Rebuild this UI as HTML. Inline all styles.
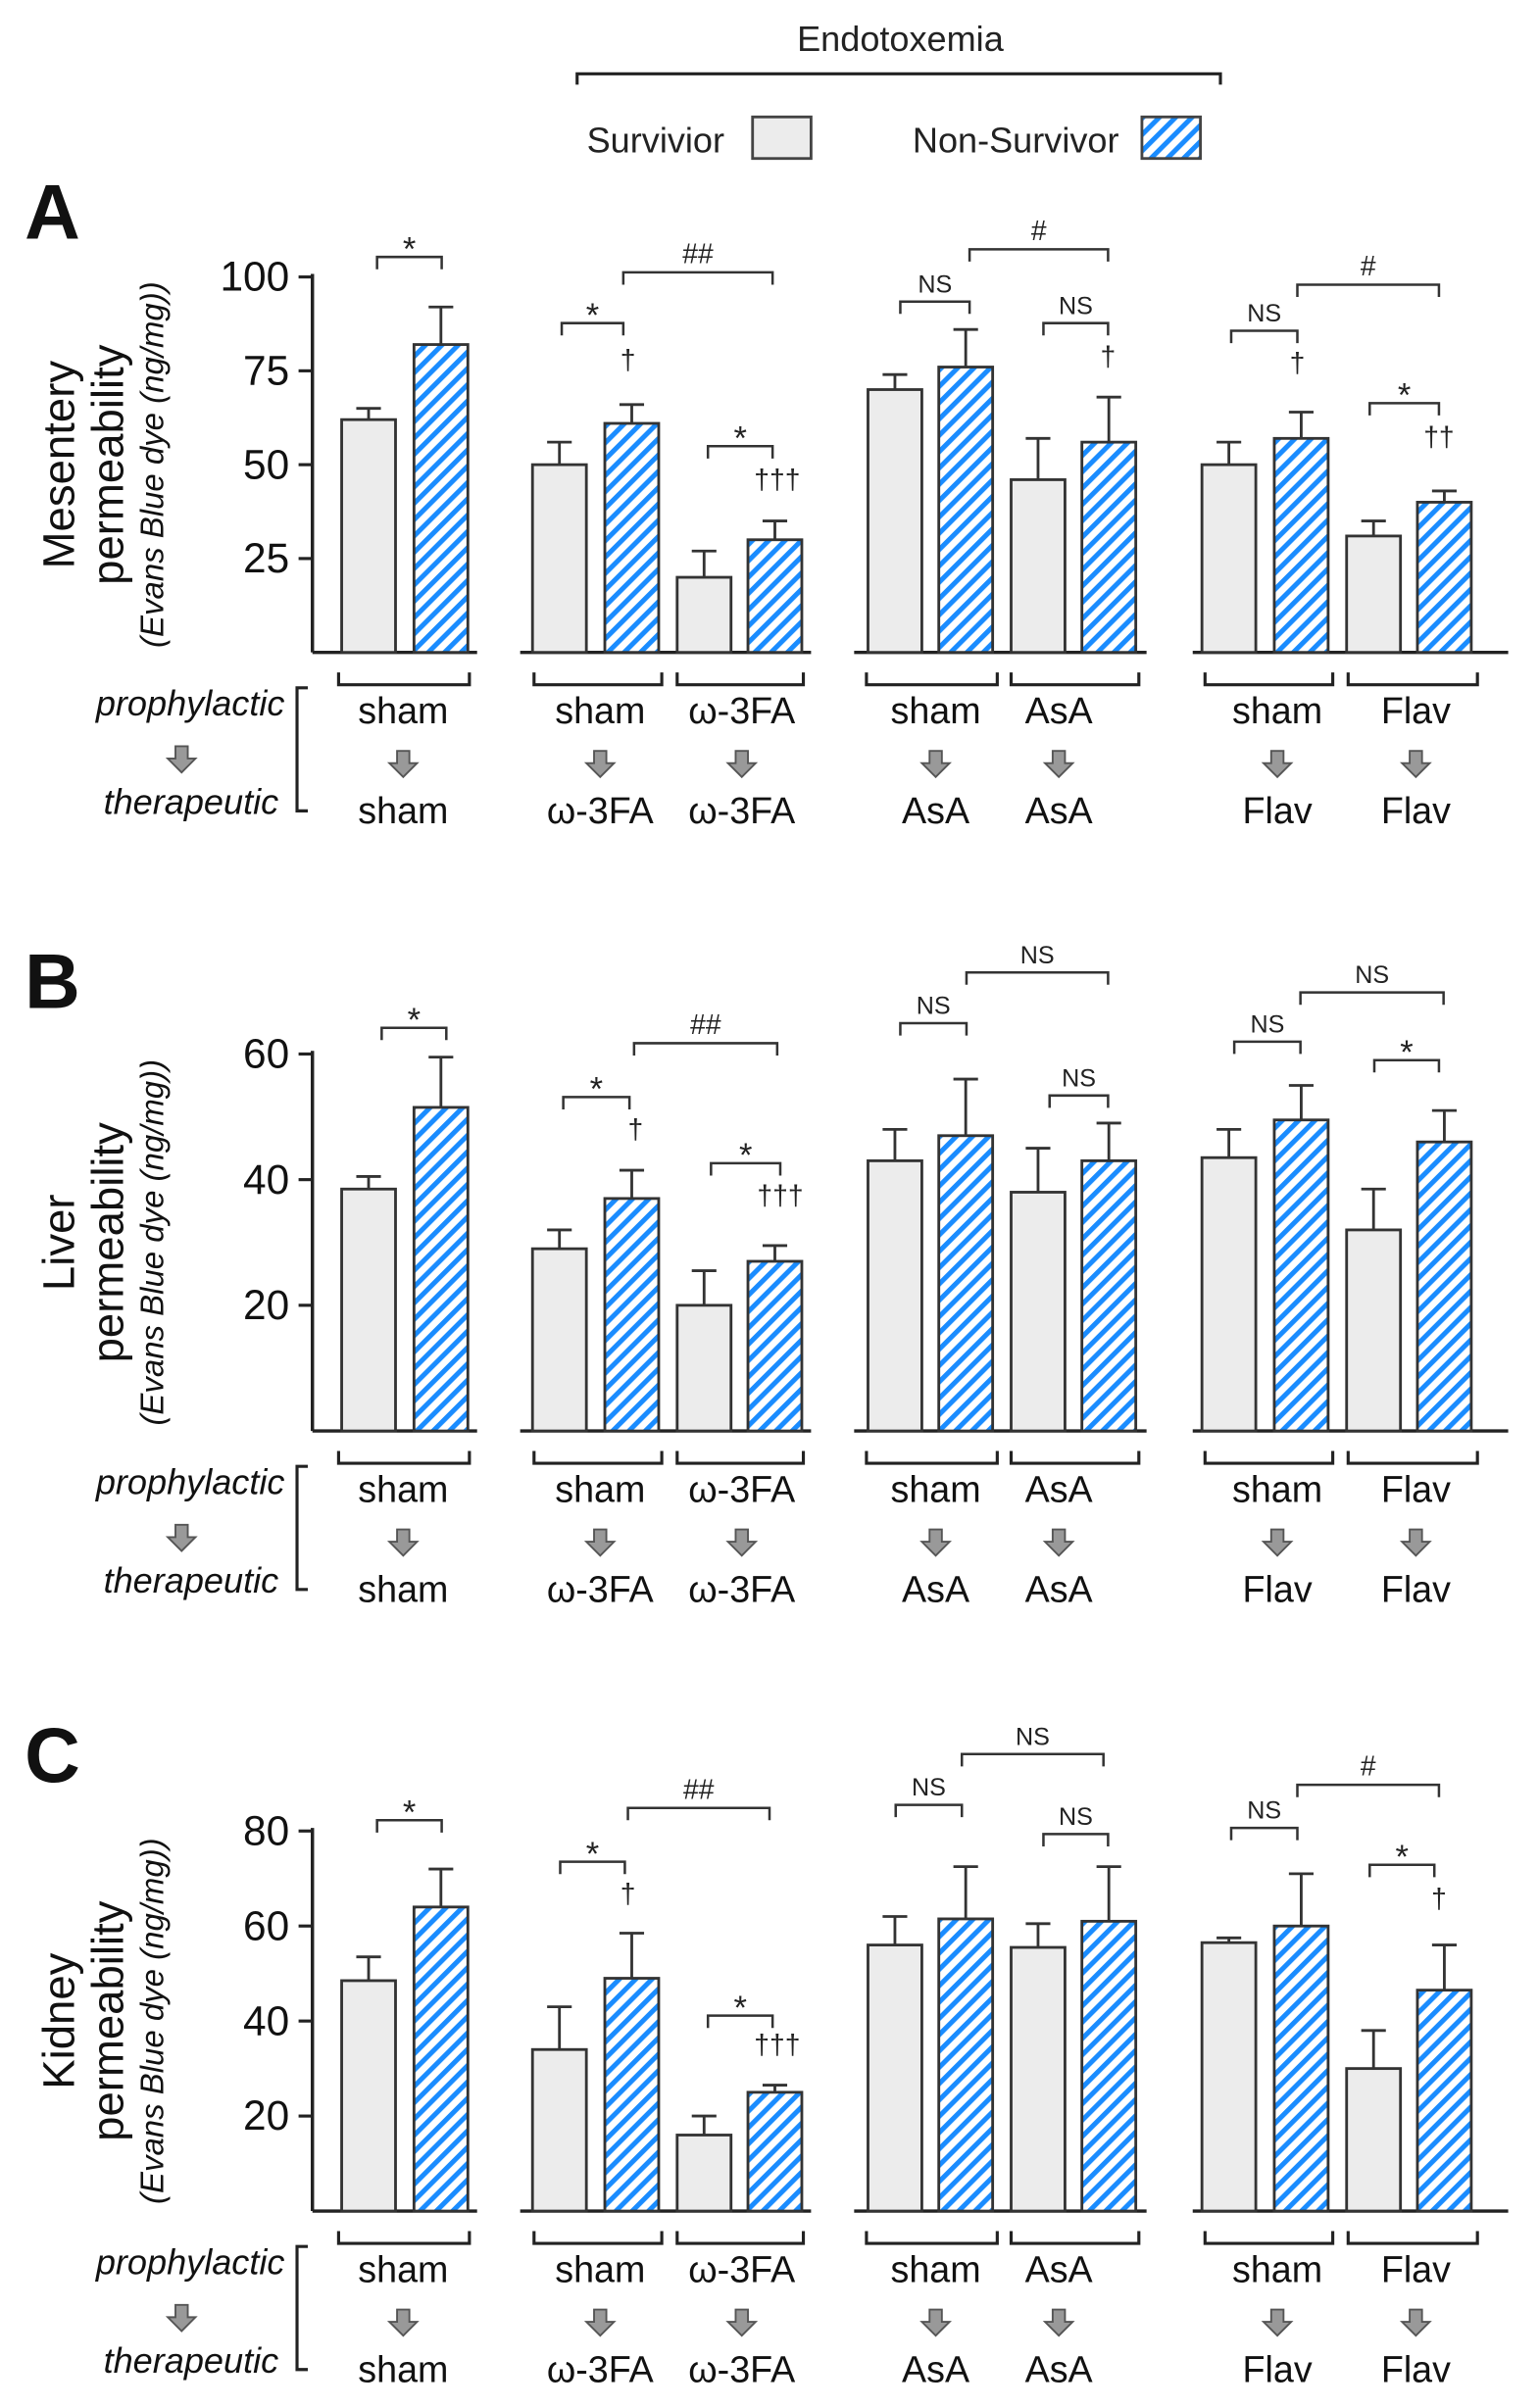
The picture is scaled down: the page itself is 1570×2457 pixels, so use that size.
<!DOCTYPE html>
<html><head><meta charset="utf-8"><style>
html,body{margin:0;padding:0;background:#fff;}
svg{display:block;font-family:"Liberation Sans",sans-serif;}
</style></head><body>
<svg id="chart" width="1570" height="2457" viewBox="0 0 1000 1565" xmlns="http://www.w3.org/2000/svg">
<defs>
<pattern id="hatch" patternUnits="userSpaceOnUse" width="7.5" height="7.5" patternTransform="rotate(45)">
<rect width="7.5" height="7.5" fill="#fff"/>
<rect x="0" y="0" width="3.2" height="7.5" fill="#1a8cff"/>
</pattern>
</defs>
<g id="legend">
<text x="585" y="33" font-size="23" text-anchor="middle" fill="#222">Endotoxemia</text>
<path d="M375,55 V48 H793 V55" fill="none" stroke="#222" stroke-width="2"/>
<text x="426" y="99" font-size="23" text-anchor="middle" fill="#222">Survivior</text>
<rect x="489" y="76" width="38" height="27" fill="#ececec" stroke="#444" stroke-width="1.8"/>
<text x="660" y="99" font-size="23" text-anchor="middle" fill="#222">Non-Survivor</text>
<rect x="742" y="76" width="38" height="27" fill="url(#hatch)" stroke="#444" stroke-width="1.8"/>
</g>
</svg>
<script>
// ---- data ----
const categories = ["sham/sham","sham/ω-3FA","ω-3FA/ω-3FA","sham/AsA","AsA/AsA","sham/Flav","Flav/Flav"];
const topLabels = ["sham","sham","ω-3FA","sham","AsA","sham","Flav"];
const bottomLabels = ["sham","ω-3FA","ω-3FA","AsA","AsA","Flav","Flav"];
const mesSurv = [62,50,20,70,46,50,31];
const mesSurvErr = [3,6,7,4,11,6,4];
const mesNon = [82,61,30,76,56,57,40];
const mesNonErr = [10,5,5,10,12,7,3];
const livSurv = [38.5,29,20,43,38,43.5,32];
const livSurvErr = [2,3,5.5,5,7,4.5,6.5];
const livNon = [51.5,37,27,47,43,49.5,46];
const livNonErr = [8,4.5,2.5,9,6,5.5,5];
const kidSurv = [48.5,34,16,56,55.5,56.5,30];
const kidSurvErr = [5,9,4,6,5,1,8];
const kidNon = [64,49,25,61.5,61,60,46.5];
const kidNonErr = [8,9.5,1.5,11,11.5,11,9.5];
const mesTicks = [25,50,75,100];
const livTicks = [20,40,60];
const kidTicks = [20,40,60,80];

const NS="http://www.w3.org/2000/svg";
const svg=document.getElementById('chart');
function el(tag,attrs,parent){const e=document.createElementNS(NS,tag);for(const k in attrs)e.setAttribute(k,attrs[k]);(parent||svg).appendChild(e);return e;}

const greyX=[222,346,440,564,657,781,875];
const blueX=[269,393,486,610,703,828,921];
const barW=35;
const groupCenters=[262,390,482,608,688,830,920];
const brX=[[220,305],[347,430],[440,522],[563,648],[657,740],[783,866],[876,960]];
const axisSegs=[[203,310],[338,527],[555,745],[775,980]];

const panels=[
 {key:'A',letterY:155,base:424,top:180,max:100,ticks:mesTicks,surv:mesSurv,se:mesSurvErr,non:mesNon,ne:mesNonErr,l1:'Mesentery',
  ann:[[245,287,167,'*'],[365,405,210,'*'],[405,502,177,'##'],[460,502,290,'*'],[408,240,null,'†'],[505,318,null,'†††'],
       [585,630,196,'NS'],[630,720,162,'#'],[678,720,210,'NS'],[720,238,null,'†'],
       [800,843,215,'NS'],[843,935,185,'#'],[890,935,262,'*'],[843,242,null,'†'],[935,290,null,'††']]},
 {key:'B',letterY:655,base:930,top:685,max:60,ticks:livTicks,surv:livSurv,se:livSurvErr,non:livNon,ne:livNonErr,l1:'Liver',
  ann:[[248,290,668,'*'],[412,505,678,'##'],[366,409,713,'*'],[413,740,null,'†'],[462,507,756,'*'],[507,783,null,'†††'],
       [585,628,665,'NS'],[628,720,632,'NS'],[682,720,712,'NS'],
       [802,845,677,'NS'],[845,938,645,'NS'],[893,935,689,'*']]},
 {key:'C',letterY:1158,base:1437,top:1190,max:80,ticks:kidTicks,surv:kidSurv,se:kidSurvErr,non:kidNon,ne:kidNonErr,l1:'Kidney',
  ann:[[245,287,1183,'*'],[408,500,1175,'##'],[364,406,1210,'*'],[408,1237,null,'†'],[460,502,1310,'*'],[505,1335,null,'†††'],
       [582,625,1173,'NS'],[625,717,1140,'NS'],[678,720,1192,'NS'],
       [800,843,1188,'NS'],[843,935,1160,'#'],[890,932,1212,'*'],[935,1240,null,'†']]}
];

function arrow(g,cx,cy){
  const p=el('path',{d:`M${cx-4},${cy-9} H${cx+4} V${cy-1} H${cx+9} L${cx},${cy+8} L${cx-9},${cy-1} H${cx-4} Z`,fill:'#999',stroke:'#555','stroke-width':1.2},g);
  
  
}

panels.forEach(P=>{
  const g=el('g',{});
  
  
  const y=v=>P.base-(P.base-P.top)*v/P.max;
  const L=el('text',{x:16,y:P.letterY,'font-size':50,'font-weight':'bold',fill:'#111'},g);L.textContent=P.key;
  
  
  const yt=el('g',{transform:`translate(0,${(P.top+P.base)/2}) rotate(-90)`},g);
  
  
  const t1=el('text',{x:0,y:48,'font-size':29,'text-anchor':'middle',fill:'#111'},yt);t1.textContent=P.l1;
  const t2=el('text',{x:0,y:80,'font-size':29,'text-anchor':'middle',fill:'#111'},yt);t2.textContent='permeability';
  const t3=el('text',{x:0,y:106,'font-size':21,'font-style':'italic','text-anchor':'middle',fill:'#111'},yt);t3.textContent='(Evans Blue dye (ng/mg))';
  const ya=el('line',{x1:203,x2:203,y1:P.top-2,y2:P.base,stroke:'#222','stroke-width':2.2},g);
  
  
  P.ticks.forEach(t=>{
    el('line',{x1:194,x2:203,y1:y(t),y2:y(t),stroke:'#222','stroke-width':2},g);
    const tt=el('text',{x:188,y:y(t)+9,'font-size':27,'text-anchor':'end',fill:'#111'},g);tt.textContent=t;
    
    
  });
  axisSegs.forEach(s=>{
    const a=el('line',{x1:s[0],x2:s[1],y1:P.base,y2:P.base,stroke:'#222','stroke-width':2.2},g);
    
    
  });
  categories.forEach((c,i)=>{
    [[greyX[i],P.surv[i],P.se[i],'#ececec','survivor'],[blueX[i],P.non[i],P.ne[i],'url(#hatch)','non-survivor']].forEach(b=>{
      const x=b[0],vy=y(b[1]),ey=y(b[1]+b[2]);
      el('line',{x1:x+barW/2,x2:x+barW/2,y1:vy,y2:ey,stroke:'#333','stroke-width':1.8},g);
      el('line',{x1:x+barW/2-8,x2:x+barW/2+8,y1:ey,y2:ey,stroke:'#333','stroke-width':1.8},g);
      const r=el('rect',{x:x,y:vy,width:barW,height:P.base-vy,fill:b[3],stroke:'#333','stroke-width':1.8},g);
      
      
    });
    const off=P.base+13;
    el('path',{d:`M${brX[i][0]},${off} V${off+8} H${brX[i][1]} V${off}`,fill:'none',stroke:'#222','stroke-width':2},g);
    const a=el('text',{x:groupCenters[i],y:off+33,'font-size':24,'text-anchor':'middle',fill:'#111'},g);a.textContent=topLabels[i];
    
    
    arrow(g,groupCenters[i],off+60);
    const b2=el('text',{x:groupCenters[i],y:off+98,'font-size':24,'text-anchor':'middle',fill:'#111'},g);b2.textContent=bottomLabels[i];
    
    
  });
  const off=P.base+13;
  const pr=el('text',{x:185,y:off+28,'font-size':23,'font-style':'italic','text-anchor':'end',fill:'#111'},g);pr.textContent='prophylactic';
  
  
  arrow(g,118,off+57);
  const th=el('text',{x:181,y:off+92,'font-size':23,'font-style':'italic','text-anchor':'end',fill:'#111'},g);th.textContent='therapeutic';
  
  
  el('path',{d:`M200,${off+10} H193 V${off+90} H200`,fill:'none',stroke:'#222','stroke-width':2},g);
  P.ann.forEach(a=>{
    if(a[2]===null){
      const d=el('text',{x:a[0],y:a[1],'font-size':18,'text-anchor':'middle',fill:'#222'},g);d.textContent=a[3];
      
      
    } else {
      el('path',{d:`M${a[0]},${a[2]+8} V${a[2]} H${a[1]} V${a[2]+8}`,fill:'none',stroke:'#333','stroke-width':1.6},g);
      const fs=a[3]==='NS'?16:(a[3]==='*'?22:18);
      const d=el('text',{x:(a[0]+a[1])/2,y:a[2]-(a[3]==='*'?-2:6),'font-size':fs,'text-anchor':'middle',fill:'#222'},g);d.textContent=a[3];
      
      
    }
  });
});
</script>
</body></html>
